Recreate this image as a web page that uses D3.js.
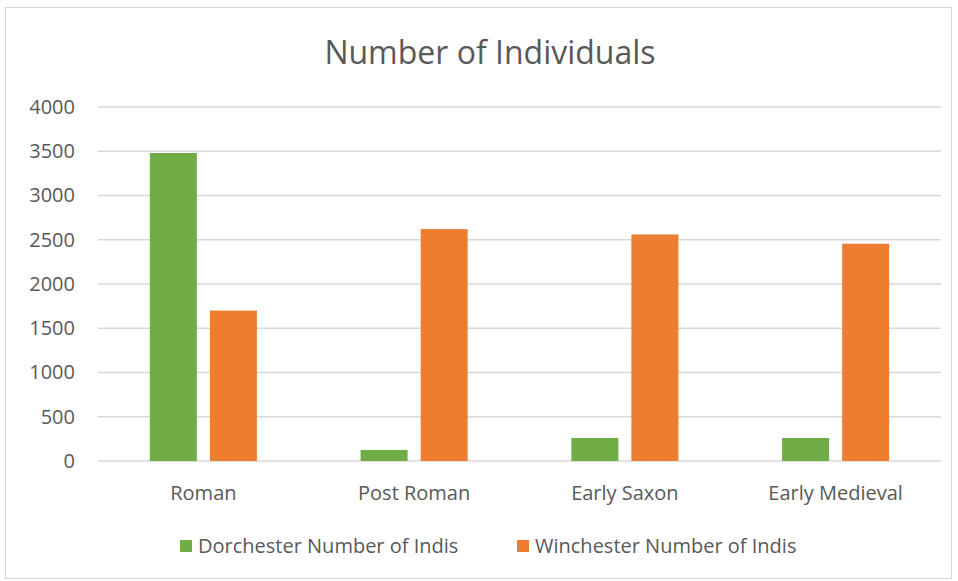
<!DOCTYPE html>
<html>
<head>
<meta charset="utf-8">
<script src="https://cdn.jsdelivr.net/npm/d3@7"></script>
<style>
  body { margin: 0; background: #fff; }
  text { font-family: "Open Sans", "Liberation Sans", sans-serif; fill: #595959; }
</style>
</head>
<body>
<div id="chart"></div>
<script>
// data
var periods = ["Roman", "Post Roman", "Early Saxon", "Early Medieval"];
var dorchester = [3480, 125, 260, 260];
var winchester = [1700, 2620, 2560, 2455];
var seriesNames = ["Dorchester Number of Indis", "Winchester Number of Indis"];
var seriesColors = ["#70ad47", "#ed7d31"];
var yTicks = [0, 500, 1000, 1500, 2000, 2500, 3000, 3500, 4000];

var W = 958, H = 581;
var margin = { top: 107, right: 17, bottom: 120, left: 98 },
    width = W - margin.left - margin.right,
    height = H - margin.top - margin.bottom;

var svg = d3.select("#chart").append("svg")
    .attr("width", W)
    .attr("height", H);

// chart border
svg.append("rect")
    .attr("x", 5.5).attr("y", 7.5)
    .attr("width", 946).attr("height", 571)
    .attr("fill", "none")
    .attr("stroke", "#d9d9d9");

// title
svg.append("text")
    .attr("x", 490)
    .attr("y", 64)
    .attr("text-anchor", "middle")
    .style("font-size", "32px")
    .text("Number of Individuals");

var g = svg.append("g")
    .attr("transform", "translate(" + margin.left + "," + margin.top + ")");

var x = d3.scaleBand()
    .domain(periods)
    .range([0, width])
    .paddingInner(0.492)
    .paddingOuter(0.246);

var xSub = d3.scaleBand()
    .domain([0, 1])
    .range([0, x.bandwidth()])
    .paddingInner(0.217);

var y = d3.scaleLinear()
    .domain([0, 4000])
    .range([height, 0]);

// gridlines
g.append("g")
    .selectAll("line")
    .data(yTicks)
    .enter().append("line")
    .attr("x1", 0)
    .attr("x2", width)
    .attr("y1", d => y(d))
    .attr("y2", d => y(d))
    .attr("stroke", "#d9d9d9")
    .attr("stroke-width", 1.3);

// y axis labels
var yAxis = g.append("g")
    .call(d3.axisLeft(y).tickValues(yTicks).tickFormat(d3.format("d")).tickSize(0).tickPadding(23));
yAxis.select(".domain").remove();
yAxis.selectAll("text")
    .style("font-size", "20px")
    .style("font-family", "\"Open Sans\", sans-serif")
    .attr("fill", "#595959");

// x axis labels
var xAxis = g.append("g")
    .attr("transform", "translate(0," + height + ")")
    .call(d3.axisBottom(x).tickSize(0).tickPadding(25));
xAxis.select(".domain").remove();
xAxis.selectAll("text")
    .style("font-size", "20px")
    .style("font-family", "\"Open Sans\", sans-serif")
    .attr("fill", "#595959");

// bars
var rows = periods.map(function (p, i) {
    return { period: p, values: [dorchester[i], winchester[i]] };
});

g.append("g")
    .selectAll("g")
    .data(rows)
    .enter().append("g")
    .attr("transform", d => "translate(" + x(d.period) + ",0)")
    .selectAll("rect")
    .data(d => d.values.map((v, k) => ({ k: k, v: v })))
    .enter().append("rect")
    .attr("x", d => xSub(d.k))
    .attr("y", d => y(d.v))
    .attr("width", xSub.bandwidth())
    .attr("height", d => height - y(d.v))
    .attr("fill", d => seriesColors[d.k]);

// legend
var legendX = [180, 517];
var legend = svg.append("g")
    .selectAll("g")
    .data(seriesNames)
    .enter().append("g")
    .attr("transform", (d, i) => "translate(" + legendX[i] + ",540)");

legend.append("rect")
    .attr("width", 12)
    .attr("height", 12)
    .attr("fill", (d, i) => seriesColors[i]);

legend.append("text")
    .attr("x", 18)
    .attr("y", 13)
    .style("font-size", "20px")
    .text(d => d);
</script>
</body>
</html>
